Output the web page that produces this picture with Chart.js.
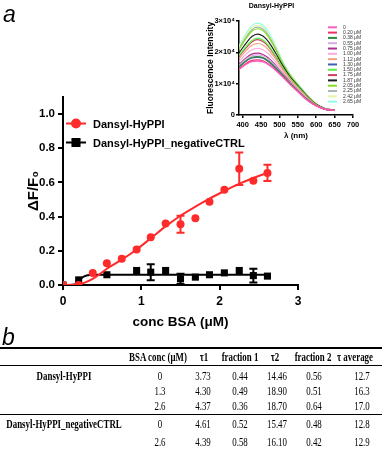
<!DOCTYPE html>
<html lang="en">
<head>
  <meta charset="UTF-8">
  <title>Dansyl-HyPPI BSA titration</title>
  <script src="https://cdn.jsdelivr.net/npm/chart.js"></script>
  <style>
    body { margin: 0; background: #fff; }
    #fig { position: relative; width: 382px; height: 449px; overflow: hidden; font-family: "Liberation Sans", Arial, sans-serif; }
    #mainWrap { position: absolute; left: 0; top: 0; width: 382px; height: 335px; }
    #insetWrap { position: absolute; left: 190px; top: 0; width: 192px; height: 145px; }
    .panel { position: absolute; font-style: italic; font-size: 23px; line-height: 1; }
    .cell {
      position: absolute;
      font-family: "Liberation Serif", "Times New Roman", serif;
      font-size: 12px;
      line-height: 14px;
      white-space: nowrap;
      transform: translate(-50%, -50%) scaleX(0.74);
    }
    .bold { font-weight: bold; }
    .rule { position: absolute; left: 0; width: 382px; background: #000; }
  </style>
</head>
<body>
<div id="fig">
  <div id="mainWrap"><canvas id="mainChart"></canvas></div>
  <div id="insetWrap"><canvas id="insetChart"></canvas></div>
  <div class="panel" style="left:3px; top:3px;">a</div>
  <div class="panel" style="left:2px; top:326px;">b</div>
  <div id="table"></div>
</div>

<script>
  // main panel: dF/F0 vs BSA concentration
  const redX = [0, 0.20, 0.38, 0.56, 0.75, 0.94, 1.12, 1.31, 1.50, 1.69, 1.87, 2.06, 2.25, 2.43, 2.61];
  const redY = [0, 0, 0.07, 0.127, 0.153, 0.207, 0.28, 0.36, 0.355, 0.39, 0.487, 0.558, 0.68, 0.61, 0.656];
  const redErr = [0, 0, 0, 0, 0, 0, 0, 0, 0.05, 0, 0, 0, 0.095, 0, 0.048];
  const redFitX = [0, 0.1, 0.2, 0.3, 0.4, 0.56, 0.75, 0.94, 1.12, 1.31, 1.5, 1.69, 1.87, 2.06, 2.24, 2.43, 2.61];
  const redFitY = [0, 0.001, 0.004, 0.018, 0.042, 0.095, 0.148, 0.208, 0.273, 0.343, 0.405, 0.458, 0.505, 0.55, 0.59, 0.626, 0.656];

  const ctrlX = [0, 0.20, 0.56, 0.94, 1.12, 1.31, 1.50, 1.69, 1.87, 2.06, 2.25, 2.43, 2.61];
  const ctrlY = [0, 0.03, 0.06, 0.085, 0.075, 0.085, 0.036, 0.046, 0.06, 0.071, 0.085, 0.055, 0.052];
  const ctrlErr = [0, 0, 0, 0, 0.047, 0, 0.03, 0, 0, 0, 0, 0.04, 0];
  const ctrlFitX = [0, 0.1, 0.15, 0.2, 0.25, 0.3, 0.35, 0.45, 2.61];
  const ctrlFitY = [0, 0, 0.003, 0.02, 0.045, 0.056, 0.059, 0.06, 0.06];

  const mainTicksY = [0, 0.2, 0.4, 0.6, 0.8, 1.0];

  // inset: emission spectra (intensity in units of 1e4)
  const wavelengths = [390, 410, 425, 440, 455, 470, 490, 510, 530, 550, 575, 600, 625, 650];
  const spectraLabels = ['0', '0.20 μM', '0.38 μM', '0.55 μM', '0.75 μM', '1.00 μM', '1.12 μM', '1.30 μM',
    '1.50 μM', '1.75 μM', '1.87 μM', '2.05 μM', '2.25 μM', '2.42 μM', '2.65 μM'];
  const spectraColors = ['#ff5cc0', '#f0306a', '#2e8b3c', '#d8a8e0', '#b03090', '#ffaad8', '#f0a080', '#4060b0',
    '#5cf040', '#d04060', '#202020', '#84e020', '#a8b8b8', '#e4f8a4', '#90ffe8'];
  const spec0   = [1.45, 1.62, 1.70, 1.72, 1.69, 1.60, 1.42, 1.20, 0.96, 0.74, 0.48, 0.29, 0.18, 0.15];
  const spec020 = [1.47, 1.65, 1.74, 1.76, 1.73, 1.63, 1.44, 1.21, 0.97, 0.75, 0.48, 0.29, 0.18, 0.15];
  const spec038 = [1.54, 1.74, 1.84, 1.86, 1.83, 1.72, 1.51, 1.26, 1.00, 0.77, 0.50, 0.30, 0.18, 0.15];
  const spec055 = [1.58, 1.79, 1.89, 1.92, 1.89, 1.78, 1.55, 1.28, 1.02, 0.78, 0.50, 0.30, 0.18, 0.15];
  const spec075 = [1.61, 1.83, 1.94, 1.97, 1.93, 1.82, 1.58, 1.30, 1.04, 0.79, 0.51, 0.30, 0.18, 0.15];
  const spec100 = [1.70, 1.95, 2.08, 2.12, 2.08, 1.95, 1.68, 1.37, 1.08, 0.83, 0.53, 0.31, 0.19, 0.15];
  const spec112 = [1.79, 2.06, 2.22, 2.28, 2.23, 2.08, 1.78, 1.43, 1.12, 0.86, 0.56, 0.32, 0.19, 0.15];
  const spec130 = [1.52, 1.72, 1.82, 1.84, 1.81, 1.70, 1.49, 1.25, 0.99, 0.77, 0.50, 0.30, 0.18, 0.15];
  const spec150 = [1.90, 2.19, 2.37, 2.45, 2.39, 2.22, 1.88, 1.49, 1.16, 0.90, 0.58, 0.33, 0.19, 0.16];
  const spec175 = [1.87, 2.15, 2.33, 2.40, 2.34, 2.18, 1.85, 1.47, 1.15, 0.89, 0.57, 0.33, 0.19, 0.16];
  const spec187 = [1.98, 2.30, 2.50, 2.58, 2.52, 2.34, 1.97, 1.55, 1.20, 0.93, 0.60, 0.34, 0.20, 0.16];
  const spec205 = [2.09, 2.45, 2.67, 2.75, 2.69, 2.49, 2.08, 1.61, 1.25, 0.96, 0.62, 0.35, 0.20, 0.16];
  const spec225 = [2.12, 2.50, 2.72, 2.80, 2.74, 2.54, 2.12, 1.63, 1.26, 0.97, 0.63, 0.35, 0.20, 0.16];
  const spec242 = [2.16, 2.56, 2.78, 2.86, 2.80, 2.59, 2.16, 1.65, 1.28, 0.98, 0.64, 0.36, 0.20, 0.16];
  const spec265 = [2.20, 2.62, 2.85, 2.93, 2.86, 2.65, 2.20, 1.68, 1.30, 1.00, 0.65, 0.36, 0.20, 0.16];
  const spectra = [spec0, spec020, spec038, spec055, spec075, spec100, spec112, spec130,
    spec150, spec175, spec187, spec205, spec225, spec242, spec265];
  const insetTicksX = [400, 450, 500, 550, 600, 650, 700];

  // table b
  const tableHead = ['', 'BSA conc (μM)', 'τ1', 'fraction 1', 'τ2', 'fraction 2', 'τ average'];
  const tableNames = ['Dansyl-HyPPI', '', '', 'Dansyl-HyPPI_negativeCTRL', ''];
  const bsaConc = ['0', '1.3', '2.6', '0', '2.6'];
  const tau1 = ['3.73', '4.30', '4.37', '4.61', '4.39'];
  const frac1 = ['0.44', '0.49', '0.36', '0.52', '0.58'];
  const tau2 = ['14.46', '18.90', '18.70', '15.47', '16.10'];
  const frac2 = ['0.56', '0.51', '0.64', '0.48', '0.42'];
  const tauAvg = ['12.7', '16.3', '17.0', '12.8', '12.9'];

  const pts = (xs, ys) => xs.map((x, i) => ({x: x, y: ys[i]}));
  const FONT = '"Liberation Sans", Arial, sans-serif';

  const errorBars = {
    id: 'errorBars',
    afterDatasetsDraw(chart) {
      const {ctx, scales: {x, y}} = chart;
      chart.data.datasets.forEach(ds => {
        if (!ds.errors) return;
        ctx.save();
        ctx.strokeStyle = ds.borderColor;
        ctx.lineWidth = 2;
        ds.data.forEach((p, j) => {
          const e = ds.errors[j];
          if (!e) return;
          const px = x.getPixelForValue(p.x);
          const top = y.getPixelForValue(p.y + e);
          const bot = y.getPixelForValue(p.y - e);
          ctx.beginPath();
          ctx.moveTo(px, top); ctx.lineTo(px, bot);
          ctx.moveTo(px - 4, top); ctx.lineTo(px + 4, top);
          ctx.moveTo(px - 4, bot); ctx.lineTo(px + 4, bot);
          ctx.stroke();
        });
        ctx.restore();
      });
    }
  };

  const mainLegend = {
    id: 'mainLegend',
    afterDraw(chart, args, opts) {
      const ctx = chart.ctx;
      opts.items.forEach((idx, k) => {
        const ds = chart.data.datasets[idx];
        const y = opts.top + k * opts.gap;
        ctx.save();
        ctx.strokeStyle = ds.borderColor;
        ctx.fillStyle = ds.backgroundColor;
        ctx.lineWidth = 2;
        ctx.beginPath();
        ctx.moveTo(opts.left, y);
        ctx.lineTo(opts.left + opts.lineLen, y);
        ctx.stroke();
        Chart.helpers.drawPoint(ctx, {pointStyle: ds.pointStyle, radius: ds.pointRadius, borderWidth: 1},
          opts.left + opts.lineLen / 2, y);
        ctx.fillStyle = '#000';
        ctx.font = 'bold 11px ' + FONT;
        ctx.textBaseline = 'middle';
        ctx.fillText(ds.label, opts.textX, y + 1);
        ctx.restore();
      });
    }
  };

  const insetLegend = {
    id: 'insetLegend',
    afterDraw(chart, args, opts) {
      const ctx = chart.ctx;
      ctx.save();
      ctx.font = '5px ' + FONT;
      ctx.textBaseline = 'middle';
      chart.data.datasets.forEach((ds, k) => {
        const y = opts.top + k * opts.gap;
        ctx.strokeStyle = ds.borderColor;
        ctx.lineWidth = 2;
        ctx.beginPath();
        ctx.moveTo(opts.left, y);
        ctx.lineTo(opts.left + opts.lineLen, y);
        ctx.stroke();
        ctx.fillStyle = '#333';
        ctx.fillText(ds.label, opts.textX, y);
      });
      ctx.restore();
    }
  };

  new Chart(document.getElementById('mainChart'), {
    type: 'scatter',
    data: {
      datasets: [
        { label: 'Dansyl-HyPPI', data: pts(redX, redY), errors: redErr,
          backgroundColor: '#ff2a2a', borderColor: '#ff2a2a', pointStyle: 'circle', pointRadius: 4, borderWidth: 0 },
        { type: 'line', label: 'fit', data: pts(redFitX, redFitY), borderColor: '#ff2a2a', borderWidth: 2,
          pointRadius: 0, tension: 0.4, cubicInterpolationMode: 'monotone', fill: false },
        { label: 'Dansyl-HyPPI_negativeCTRL', data: pts(ctrlX, ctrlY), errors: ctrlErr,
          backgroundColor: '#000', borderColor: '#000', pointStyle: 'rect', pointRadius: 5, borderWidth: 0 },
        { type: 'line', label: 'fit ctrl', data: pts(ctrlFitX, ctrlFitY), borderColor: '#000', borderWidth: 2,
          pointRadius: 0, cubicInterpolationMode: 'monotone', fill: false }
      ]
    },
    options: {
      responsive: true,
      maintainAspectRatio: false,
      animation: false,
      layout: { padding: { left: 0, top: 97, right: 84, bottom: 0 } },
      plugins: {
        legend: { display: false },
        tooltip: { enabled: false },
        mainLegend: { items: [0, 2], left: 66, lineLen: 20, textX: 93, top: 123.5, gap: 19 }
      },
      scales: {
        x: {
          type: 'linear', min: 0, max: 3,
          ticks: { stepSize: 1, color: '#000', padding: 4, font: { family: FONT, size: 12, weight: 'bold' } },
          grid: { drawOnChartArea: false, color: '#000', lineWidth: 2, tickLength: 5 },
          border: { color: '#000', width: 2 },
          title: { display: true, text: 'conc BSA (μM)', color: '#000',
            font: { family: FONT, size: 13.5, weight: 'bold' }, padding: { top: 0, bottom: 5 } },
          afterFit: s => { s.height = 50; }
        },
        y: {
          min: 0, max: 1.1,
          afterBuildTicks: axis => { axis.ticks = mainTicksY.map(v => ({ value: v })); },
          ticks: { color: '#000', padding: 3, font: { family: FONT, size: 11.5, weight: 'bold' },
            callback: v => v.toFixed(1) },
          grid: { drawOnChartArea: false, color: '#000', lineWidth: 2, tickLength: 5 },
          border: { color: '#000', width: 2 },
          title: { display: true, text: 'ΔF/F₀', color: '#000',
            font: { family: FONT, size: 15, weight: 'bold' }, padding: { top: 25, bottom: 0 } },
          afterFit: s => { s.width = 63; }
        }
      }
    },
    plugins: [errorBars, mainLegend]
  });

  new Chart(document.getElementById('insetChart'), {
    type: 'line',
    data: {
      datasets: spectra.map((s, i) => ({
        label: spectraLabels[i],
        data: pts(wavelengths, s),
        borderColor: spectraColors[i],
        borderWidth: 1.2,
        pointRadius: 0,
        cubicInterpolationMode: 'monotone',
        fill: false
      }))
    },
    options: {
      responsive: true,
      maintainAspectRatio: false,
      animation: false,
      layout: { padding: { left: 0, top: 0, right: 29, bottom: 0 } },
      plugins: {
        legend: { display: false },
        tooltip: { enabled: false },
        title: { display: true, text: 'Dansyl-HyPPI', color: '#000',
          font: { family: FONT, size: 7, weight: 'bold' }, padding: { top: 1.5, bottom: 11 } },
        insetLegend: { left: 138, lineLen: 9, textX: 153, top: 27.3, gap: 5.31 }
      },
      scales: {
        x: {
          type: 'linear', min: 390, max: 700,
          afterBuildTicks: axis => { axis.ticks = insetTicksX.map(v => ({ value: v })); },
          ticks: { color: '#000', padding: 2, maxRotation: 0, font: { family: FONT, size: 7.5, weight: 'bold' } },
          grid: { drawOnChartArea: false, color: '#000', lineWidth: 1.5, tickLength: 3 },
          border: { color: '#000', width: 1.5 },
          title: { display: true, text: 'λ (nm)', color: '#000',
            font: { family: FONT, size: 8, weight: 'bold' }, padding: { top: 0, bottom: 4 } },
          afterFit: s => { s.height = 30; }
        },
        y: {
          min: 0, max: 3,
          ticks: { stepSize: 1, color: '#000', padding: 1, font: { family: FONT, size: 7.5, weight: 'bold' },
            callback: v => v === 0 ? '0' : v + '×10⁴' },
          grid: { drawOnChartArea: false, color: '#000', lineWidth: 1.5, tickLength: 3 },
          border: { color: '#000', width: 1.5 },
          title: { display: true, text: 'Fluorescence Intensity', color: '#000',
            font: { family: FONT, size: 8.5, weight: 'bold' }, padding: { top: 15.5, bottom: 0 } },
          afterFit: s => { s.width = 49; }
        }
      }
    },
    plugins: [insetLegend]
  });

  // table
  const table = document.getElementById('table');
  const headX = [64, 157.5, 203.5, 239.5, 275, 312.5, 355];
  const cellX = [64, 159.5, 202.5, 240, 277, 313.5, 362];
  const rowY = [375.7, 391, 406, 424.3, 441.7];

  function addCell(text, x, y, bold) {
    const d = document.createElement('div');
    d.className = 'cell' + (bold ? ' bold' : '');
    d.style.left = x + 'px';
    d.style.top = y + 'px';
    d.textContent = text;
    table.appendChild(d);
  }
  function addRule(y, h) {
    const d = document.createElement('div');
    d.className = 'rule';
    d.style.top = y + 'px';
    d.style.height = h + 'px';
    table.appendChild(d);
  }

  addRule(346.8, 2);
  addRule(365.2, 1);
  addRule(413.5, 1.5);
  tableHead.forEach((h, c) => { if (h) addCell(h, headX[c], 356.7, true); });
  const cols = [tableNames, bsaConc, tau1, frac1, tau2, frac2, tauAvg];
  rowY.forEach((y, r) => {
    cols.forEach((col, c) => {
      if (col[r]) addCell(col[r], cellX[c], y, c === 0);
    });
  });
</script>
</body>
</html>
